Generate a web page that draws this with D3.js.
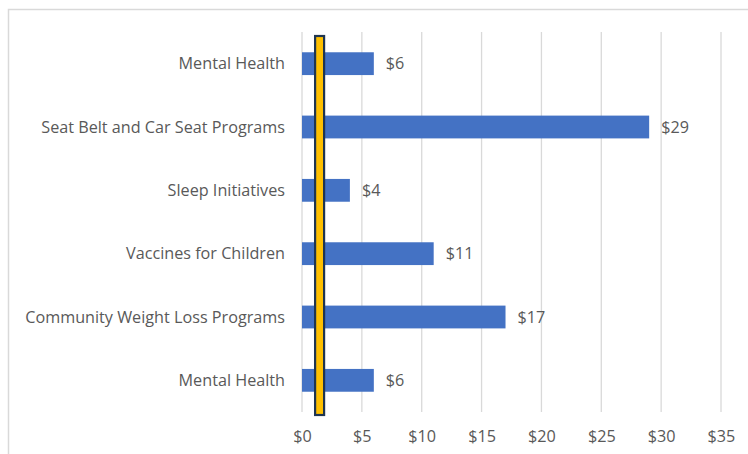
<!DOCTYPE html>
<html><head><meta charset="utf-8">
<script src="https://cdn.jsdelivr.net/npm/d3@7"></script>
<style>body{margin:0;background:#fff}svg{display:block}</style>
</head><body>
<svg id="c" width="748" height="454"></svg>
<script>
const categories = ["Mental Health","Seat Belt and Car Seat Programs","Sleep Initiatives","Vaccines for Children","Community Weight Loss Programs","Mental Health"];
const values = [6, 29, 4, 11, 17, 6];
const xTicks = [0,5,10,15,20,25,30,35];
const markerValue = 1.47;

(function(){
const svg = d3.select("#c");
const font = "Open Sans, sans-serif";
const txt = "#595959";
const fs = 16.2;
const pl = 302, pr = 721, pt = 32, pb = 412;

svg.append("path").attr("d","M8.5,454 V9.5 H748").attr("fill","none").attr("stroke","#d9d9d9").attr("stroke-width",1.5);

const x = d3.scaleLinear().domain([0,35]).range([pl,pr]);
const y = d3.scaleBand().domain(d3.range(categories.length)).range([pt,pb]).paddingInner(0.64).paddingOuter(0.32);

svg.append("g").selectAll("line").data(xTicks).join("line")
  .attr("x1",d=>x(d)).attr("x2",d=>x(d)).attr("y1",pt).attr("y2",pb)
  .attr("stroke","#d9d9d9").attr("stroke-width",1.3);

const xa = svg.append("g").attr("transform",`translate(0,${pb})`)
  .call(d3.axisBottom(x).tickValues(xTicks).tickFormat(d=>"$"+d).tickSize(0).tickPadding(18));
xa.select(".domain").remove();
xa.selectAll("text").attr("font-family",font).attr("font-size",fs).attr("fill",txt);

svg.append("g").selectAll("rect").data(values).join("rect")
  .attr("x",x(0)).attr("y",(d,i)=>y(i)).attr("width",d=>x(d)-x(0)).attr("height",y.bandwidth())
  .attr("fill","#4472C4");

svg.append("g").selectAll("text").data(values).join("text")
  .attr("x",d=>x(d)+12).attr("y",(d,i)=>y(i)+y.bandwidth()/2).attr("dy","0.35em")
  .attr("font-family",font).attr("font-size",fs).attr("fill",txt).text(d=>"$"+d);

svg.append("g").selectAll("text").data(categories).join("text")
  .attr("x",285).attr("y",(d,i)=>y(i)+y.bandwidth()/2).attr("dy","0.35em").attr("text-anchor","end")
  .attr("font-family",font).attr("font-size",fs).attr("fill",txt).text(d=>d);

svg.append("rect").attr("x",x(markerValue)-4.5).attr("y",36).attr("width",9).attr("height",379)
  .attr("fill","#FFC000").attr("stroke","#1F3550").attr("stroke-width",2.2);
})();
</script>
</body></html>
